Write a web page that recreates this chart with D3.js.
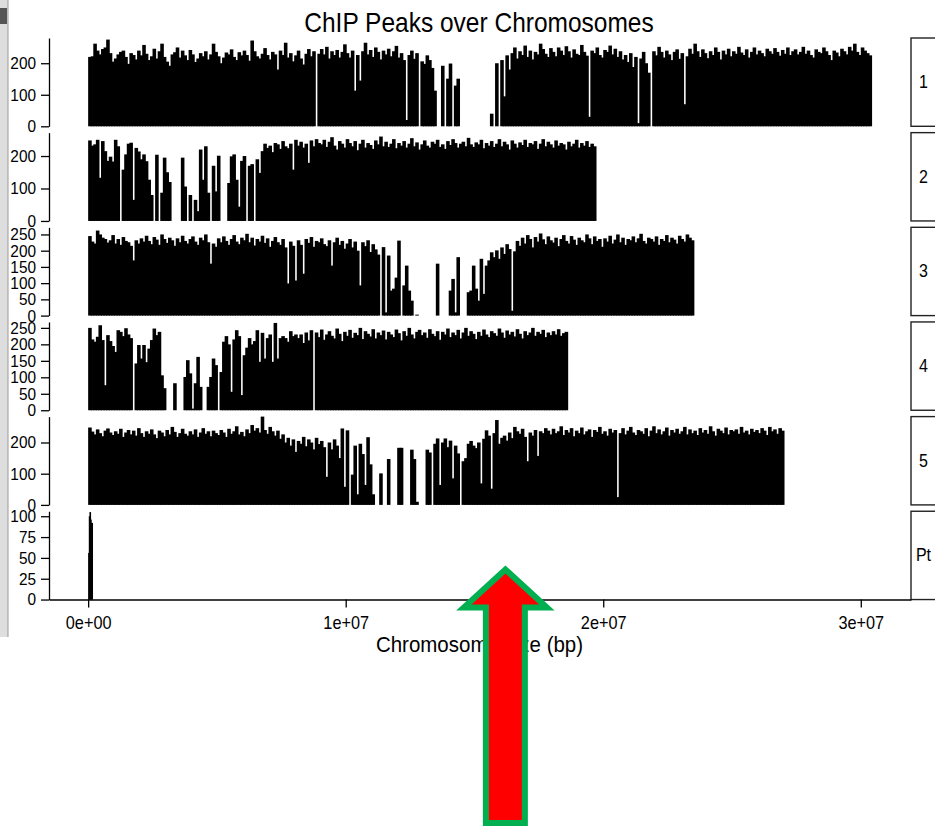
<!DOCTYPE html>
<html>
<head>
<meta charset="utf-8">
<script src="https://cdn.jsdelivr.net/npm/d3@7"></script>
<style>
  body { margin: 0; background: #fff; }
  svg { display: block; }
  text { font-family: "Liberation Sans", Arial, sans-serif; fill: #000; }
</style>
</head>
<body>
<svg id="chart" width="935" height="826"></svg>
<script>
// peak counts per bin (100 kb bins, Pt 25 kb bins)
var chromosomes = ["1", "2", "3", "4", "5", "Pt"]
var binSizes = [1e5, 1e5, 1e5, 1e5, 1e5, 2.5e4]

var chr1 = [220,222,262,240,228,245,250,275,232,205,
  215,228,236,240,220,198,232,226,212,240,
  225,258,230,210,222,246,215,238,262,220,
  205,192,228,235,250,218,240,225,210,242,
  228,204,215,232,222,238,212,228,262,236,
  222,200,218,234,228,244,220,210,235,225,
  240,226,208,272,238,222,215,230,248,226,
  212,236,228,180,240,226,265,218,232,206,
  225,240,215,196,230,245,222,238,
  0,
  230,245,228,252,215,238,226,242,218,236,260,
  232,218,240,113,226,145,238,265,228,242,
  220,250,236,212,240,228,246,222,238,255,
  218,232,210,20,226,240,214,232,0,206,198,225,210,
  185,
  113,0,0,192,0,151,199,0,129,151,
  0,0,0,0,0,0,0,0,0,0,0,0,
  40,0,
  200,0,210,95,225,180,
  232,250,215,238,226,256,220,240,212,236,
  228,262,245,230,220,248,236,222,250,240,
  226,254,238,218,244,230,226,258,236,224,
  30,
  240,232,250,226,218,242,236,256,228,246,
  220,238,212,226,204,232,188,220,
  10,215,236,200,170,0,
  238,225,252,236,218,240,228,210,236,244,214,232,
  70,
  222,246,230,262,238,220,244,232,216,238,226,250,
  236,212,240,228,246,222,238,230,252,234,
  226,244,218,236,250,228,240,232,222,246,
  238,230,248,236,224,242,230,250,226,238,
  244,228,236,252,230,240,226,218,244,236,
  232,250,238,226,210,240,234,222,246,238,
  228,252,240,262,236,226,250,240,232,225]

var chr2 = [248,232,236,250,133,246,215,185,198,183,250,230,
  0,
  158,205,238,241,65,225,214,190,205,184,127,80,
  0,204,0,87,195,150,120,
  0,0,0,0,
  195,106,0,80,0,65,30,220,127,230,87,0,170,91,201,0,0,0,
  117,199,205,127,44,185,200,0,170,175,
  0,
  190,148,215,238,225,232,212,240,236,222,246,230,224,238,158,250,232,244,226,238,179,248,230,252,240,
  236,250,228,244,258,232,220,246,238,226,
  252,240,230,246,218,238,250,226,240,234,
  222,248,236,260,230,244,228,238,252,224,
  240,232,246,226,238,255,230,242,220,236,
  248,232,226,244,238,250,228,236,222,246,
  234,252,240,226,238,244,230,256,236,228,
  242,236,250,224,240,232,246,228,238,252,
  230,244,236,220,248,238,226,242,234,250,
  228,240,236,246,222,238,252,230,244,236,
  226,248,232,240,236,220,244,230,238,250,
  226,240,232,246,228,238,230]

var chr3 = [245,228,222,262,250,240,236,225,232,248,
  222,236,218,242,230,226,215,170,232,222,
  238,228,246,230,220,242,234,218,250,236,
  224,240,232,215,238,226,246,230,222,236,
  244,228,218,240,232,250,226,160,222,212,
  238,226,244,230,218,236,248,228,220,240,
  232,252,226,240,216,236,228,246,224,238,
  212,230,242,226,218,236,210,99,228,215,
  108,232,218,129,236,224,242,212,230,226,
  238,220,214,232,154,226,240,218,230,206,
  222,236,210,228,200,93,226,214,232,196,220,204,188,
  0,211,10,185,77,83,117,231,0,
  93,154,77,46,0,3,
  0,0,0,0,0,0,0,
  160,
  0,0,0,0,
  77,113,10,180,
  0,0,0,
  72,77,154,83,46,175,67,154,170,
  195,180,201,175,210,190,220,205,15,198,
  230,215,240,222,248,236,210,242,228,253,235,220,244,232,
  225,240,214,236,248,230,222,245,234,218,
  240,232,226,250,238,220,244,230,236,212,
  238,228,246,222,234,250,226,240,218,236,
  232,244,226,238,252,230,222,240,236,228,
  244,218,236,230,248,226,240,234,222,246,
  236,228,250,240,232]

var chr4 = [250,215,208,223,258,213,76,228,210,195,
  177,243,238,225,249,230,219,
  0,
  142,198,157,198,146,187,213,248,228,238,106,67,
  0,0,0,
  82,
  0,0,0,
  101,152,112,5,82,162,71,
  0,0,
  71,101,157,137,
  0,
  116,208,225,200,
  56,215,243,225,46,167,190,219,200,210,
  243,147,235,157,219,230,147,265,157,219,
  225,219,208,240,225,230,219,230,204,236,212,243,
  0,
  236,222,245,214,230,240,226,218,248,232,
  210,238,226,244,220,235,228,250,216,240,
  232,224,246,218,236,228,242,215,238,230,
  222,245,234,212,240,226,250,230,218,238,
  244,228,236,220,246,232,225,240,214,238,
  230,248,222,236,228,244,218,236,250,226,
  240,232,216,238,226,245,230,222,240,234,
  226,248,236,220,242,230,238,224,246,232,
  218,240,228,236,250,226,238,232,244,222,
  236,228,240,230,246,226,234,238]

var chr5 = [248,235,226,242,230,220,238,245,232,224,
  236,228,244,218,232,240,226,238,222,246,
  230,218,236,228,242,226,214,238,232,220,
  240,226,250,234,218,230,244,228,222,236,
  226,242,218,232,246,228,236,220,238,230,
  224,240,232,218,244,228,236,252,226,234,
  220,242,230,256,238,246,232,283,240,228,
  250,236,222,238,212,226,200,215,190,210,
  170,205,196,218,188,210,200,178,215,195,
  205,185,90,200,178,210,190,150,245,58,
  239,0,97,190,34,196,163,64,217,130,34,0,0,
  101,0,0,147,0,0,0,183,183,0,0,0,177,147,10,0,0,0,177,168,0,
  196,213,64,200,213,185,206,85,190,165,
  0,
  140,150,196,205,190,182,200,69,212,239,222,52,230,
  272,196,215,222,206,232,214,250,236,228,244,218,
  140,232,222,240,157,236,230,246,238,226,
  244,230,236,252,224,240,232,246,220,238,
  230,248,226,236,242,218,240,234,250,228,
  236,222,244,232,240,25,230,246,226,238,
  250,232,224,240,236,228,246,220,238,252,
  230,242,226,236,248,222,240,232,244,228,
  236,250,226,242,230,238,224,246,232,240,
  228,252,236,222,244,238,230,248,226,240,
  236,242,228,250,232,238,226,244,234,240,
  230,246,238,224,250,236,242,228,246,238]

var chrPt = [56,100,105,96,92,92]

var counts = [chr1, chr2, chr3, chr4, chr5, chrPt]
var yMax = [280, 272, 272, 268, 283, 106]
var yTicks = [
  [0, 100, 200],
  [0, 100, 200],
  [0, 50, 100, 150, 200, 250],
  [0, 50, 100, 150, 200, 250],
  [0, 100, 200],
  [0, 25, 50, 75, 100]
]
var xTicks = [0, 1e7, 2e7, 3e7]
var xTickLabels = ["0e+00", "1e+07", "2e+07", "3e+07"]
var title = "ChIP Peaks over Chromosomes"
var xTitle = "Chromosome size (bp)"
var arrowAt = 1.62e7

var svg = d3.select("#chart")
var stretch = "scale(1,1.1)"

var panelTop = 38, panelH = 88.3, panelStep = 94.65
var x = d3.scaleLinear().domain([-1.52e6, 31.95e6]).range([49, 911])

// window edge left over from the screenshot
svg.append("rect").attr("x", 0).attr("y", 0).attr("width", 8).attr("height", 637)
  .attr("fill", "#dedede")
svg.append("rect").attr("x", 0).attr("y", 8).attr("width", 7).attr("height", 16)
  .attr("fill", "#555")
svg.append("line").attr("x1", 8).attr("x2", 8).attr("y1", 0).attr("y2", 637)
  .attr("stroke", "#999")

function addText(txt, px, py, size, anchor) {
  return svg.append("text")
    .attr("transform", "translate(" + px + "," + py + ") " + stretch)
    .attr("text-anchor", anchor)
    .style("font-size", size + "px")
    .text(txt)
}

chromosomes.forEach(function (chr, p) {
  var top = panelTop + p * panelStep
  var y = d3.scaleLinear().domain([0, yMax[p]]).range([top + panelH, top])
  var bin = binSizes[p]
  // one extra pixel so neighbouring bars close up without seams
  var bw = x(bin) - x(0) + 1

  var bars = counts[p].map(function (v, i) { return { start: i * bin, v: v } })

  svg.append("g").selectAll("rect").data(bars).enter().append("rect")
    .attr("x", function (d) { return x(d.start) })
    .attr("y", function (d) { return y(d.v) })
    .attr("width", bw)
    .attr("height", function (d) { return y(0) - y(d.v) })
    .attr("fill", "#000")

  var ax = svg.append("g").attr("transform", "translate(49,0)")
    .call(d3.axisLeft(y).tickValues(yTicks[p]).tickSize(8).tickPadding(5).tickSizeOuter(0))
  ax.select(".domain").attr("stroke", "#000").attr("stroke-width", 1.3)
  ax.selectAll(".tick line").attr("stroke", "#000").attr("stroke-width", 1.3)
  ax.selectAll("text").attr("transform", stretch).style("font-size", "15.4px")
    .style("font-family", "Liberation Sans, Arial, sans-serif")

  // strip on the right
  svg.append("rect").attr("x", 911).attr("y", top).attr("width", 30).attr("height", panelH)
    .attr("fill", "#fff").attr("stroke", "#222").attr("stroke-width", 1.4)
  addText(chr, 923.5, top + panelH / 2 + 6, 16, "middle")
})

var bottom = panelTop + 5 * panelStep + panelH
var xa = svg.append("g").attr("transform", "translate(0," + bottom + ")")
  .call(d3.axisBottom(x).tickValues(xTicks)
    .tickFormat(function (d, i) { return xTickLabels[i] })
    .tickSize(8).tickPadding(7).tickSizeOuter(0))
xa.select(".domain").attr("stroke", "#000").attr("stroke-width", 1.6)
xa.selectAll(".tick line").attr("stroke", "#000").attr("stroke-width", 1.3)
xa.selectAll("text").attr("transform", stretch).style("font-size", "16.3px")
  .style("font-family", "Liberation Sans, Arial, sans-serif")

addText(title, 479, 32, 24.5, "middle")
addText(xTitle, 479.5, 652, 20.5, "middle")

// red arrow pasted over the figure
var cx = x(arrowAt)
var arrow = [[0, 569.5], [41.5, 607.5], [19.5, 607.5], [19.5, 823],
  [-19.5, 823], [-19.5, 607.5], [-41.5, 607.5]]
svg.append("polygon")
  .attr("points", arrow.map(function (d) { return (cx + d[0]) + "," + d[1] }).join(" "))
  .attr("fill", "#ff0000")
  .attr("stroke", "#00b050")
  .attr("stroke-width", 6)
  .attr("stroke-linejoin", "miter")
</script>
</body>
</html>
